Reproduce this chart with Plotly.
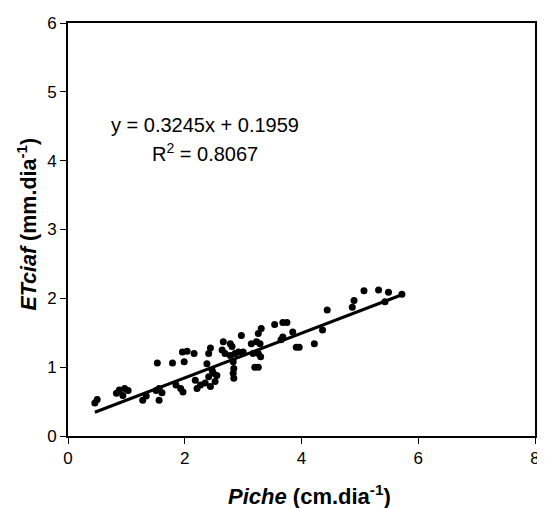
import plotly.graph_objects as go

piche = [0.46, 0.50, 0.83, 0.88, 0.94, 0.97, 1.03, 1.28, 1.34, 1.51, 1.53, 1.56, 1.56, 1.61,
         1.79, 1.85, 1.93, 1.97, 1.96, 1.99, 2.04, 2.16, 2.18, 2.21, 2.27, 2.35, 2.41, 2.44,
         2.49, 2.52, 2.47, 2.38, 2.41, 2.44, 2.55, 2.64, 2.66, 2.69, 2.78, 2.81, 2.78, 2.86,
         2.83, 2.84, 2.83, 2.84, 2.92, 2.97, 3.00, 3.14, 3.23, 3.17, 3.20, 3.26, 3.26, 3.30,
         3.26, 3.31, 3.29, 3.54, 3.68, 3.75, 3.68, 3.65, 3.85, 3.91, 3.96, 4.22, 4.36, 4.44,
         4.87, 4.90, 5.07, 5.32, 5.49, 5.43, 5.72]
etciaf = [0.48, 0.53, 0.62, 0.67, 0.59, 0.69, 0.66, 0.52, 0.58, 0.66, 1.06, 0.69, 0.52, 0.63,
          1.06, 0.74, 0.69, 0.64, 1.22, 1.08, 1.23, 1.20, 0.81, 0.69, 0.74, 0.77, 0.86, 0.72,
          0.91, 0.79, 0.95, 1.05, 1.20, 1.28, 0.88, 1.25, 1.37, 1.20, 1.34, 1.30, 1.17, 1.20,
          1.08, 0.98, 0.91, 0.84, 1.22, 1.46, 1.22, 1.34, 1.37, 1.20, 1.00, 1.00, 1.20, 1.15,
          1.49, 1.56, 1.34, 1.62, 1.65, 1.65, 1.44, 1.40, 1.51, 1.29, 1.29, 1.34, 1.54, 1.83,
          1.87, 1.97, 2.11, 2.12, 2.09, 1.95, 2.06]

slope = 0.3245
intercept = 0.1959
r2 = 0.8067

x_ticks = [0, 2, 4, 6, 8]
y_ticks = [0, 1, 2, 3, 4, 5, 6]

FONT = "Liberation Sans, Arial, sans-serif"

line_x = [min(piche), max(piche)]
line_y = [slope * v + intercept for v in line_x]

fig = go.Figure()
fig.add_trace(go.Scatter(x=line_x, y=line_y, mode="lines",
                         line=dict(color="black", width=3), hoverinfo="skip"))
fig.add_trace(go.Scatter(x=piche, y=etciaf, mode="markers",
                         marker=dict(color="black", size=7)))

fig.add_annotation(x=0.293, y=0.752, xref="paper", yref="paper",
                   xanchor="center", yanchor="middle",
                   text=f"y = {slope}x + {intercept}", showarrow=False,
                   font=dict(family=FONT, size=20, color="black"))
fig.add_annotation(x=0.293, y=0.687, xref="paper", yref="paper",
                   xanchor="center", yanchor="middle",
                   text=f"R<sup>2</sup> = {r2}", showarrow=False,
                   font=dict(family=FONT, size=20, color="black"))

fig.add_annotation(x=0.518, y=-0.143, xref="paper", yref="paper",
                   xanchor="center", yanchor="middle",
                   text="<b><i>Piche</i> (cm.dia<sup>-1</sup>)</b>", showarrow=False,
                   font=dict(family=FONT, size=22, color="black"))
fig.add_annotation(x=-0.088, y=0.514, xref="paper", yref="paper", textangle=-90,
                   xanchor="center", yanchor="middle",
                   text="<b><i>ETciaf</i> (mm.dia<sup>-1</sup>)</b>", showarrow=False,
                   font=dict(family=FONT, size=21.5, color="black"))

fig.update_layout(
    width=537, height=500,
    margin=dict(l=60, r=5, t=15, b=72),
    paper_bgcolor="white", plot_bgcolor="white",
    showlegend=False,
    font=dict(family=FONT, size=17, color="black"),
    xaxis=dict(range=[0, 8], tickvals=x_ticks, showgrid=False, zeroline=False,
               showline=True, linecolor="black", linewidth=2, mirror=True,
               ticks="outside", ticklen=6, tickcolor="black", tickwidth=1,
               tickfont=dict(family=FONT, size=17)),
    yaxis=dict(range=[0, 6], tickvals=y_ticks, showgrid=False, zeroline=False,
               showline=True, linecolor="black", linewidth=2, mirror=True,
               ticks="outside", ticklen=6, tickcolor="black", tickwidth=1,
               tickfont=dict(family=FONT, size=17)),
)

fig.write_html("out.html")
